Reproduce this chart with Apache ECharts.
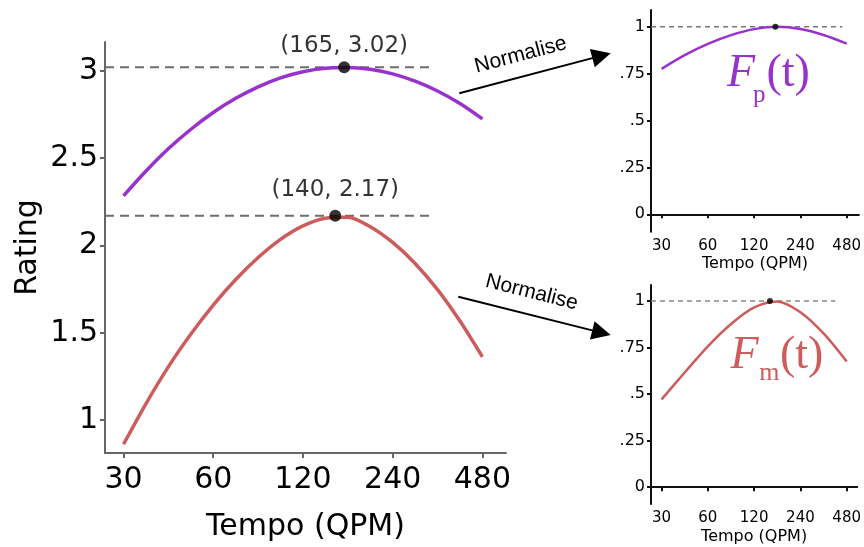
<!DOCTYPE html>
<html><head><meta charset="utf-8">
<script src="https://cdn.jsdelivr.net/npm/echarts@6/dist/echarts.min.js"></script>
<style>html,body{margin:0;padding:0;background:#fff}#c{width:864px;height:547px}</style>
</head><body><div id="c"></div>
<script>
// ---- data ----
const tempo = [30, 35.7, 42.4, 50.5, 60, 71.4, 84.9, 100.9, 120, 142.7, 169.7, 201.8, 240, 285.4, 339.4, 403.6, 480];
const pleasantness = [2.284, 2.426, 2.553, 2.665, 2.761, 2.842, 2.908, 2.959, 2.994, 3.014, 3.018, 3.008, 2.982, 2.940, 2.884, 2.812, 2.724];
const movement = [0.862, 1.095, 1.305, 1.493, 1.659, 1.805, 1.931, 2.035, 2.112, 2.156, 2.162, 2.107, 2.017, 1.897, 1.747, 1.567, 1.362];
const tempoSmall = [30, 42.4, 60, 84.9, 120, 169.7, 240, 339.4, 480];
const pleasantnessNorm = [0.775, 0.848, 0.908, 0.955, 0.987, 1.0, 0.988, 0.956, 0.91];
const movementNorm = [0.472, 0.616, 0.757, 0.877, 0.966, 0.998, 0.94, 0.826, 0.675];
const peakTempo = [165, 154];
const peakValue = [3.02, 2.17];
const peakLabels = ['(165, 3.02)', '(140, 2.17)'];
const peakTempoNorm = [165, 152];
const dashEndMain = 328;
const dashEndNormP = 450;
const dashEndNormM = 404;
const xTicks = [30, 60, 120, 240, 480];
const yTicksMain = [1, 1.5, 2, 2.5, 3];
const yTicksNorm = [0, 0.25, 0.5, 0.75, 1];
const yTickLabelsNorm = ['0', '.25', '.5', '.75', '1'];
const arrowText = 'Normalise';

// ---- build ----
const L = Math.log2;
const PURPLE = '#9932CC', RED = '#CD5C5C';
const FONT = '"DejaVu Sans", sans-serif';
const pts = (xs, ys) => xs.map((t, i) => [L(t), ys[i]]);

function xAxisOf(grid, min, max, fs, margin, nameSize, nameGap, col, lw, tickLen) {
  return {
    type: 'value', gridIndex: grid, min: L(min), max: L(max),
    name: 'Tempo (QPM)', nameLocation: 'middle', nameGap: nameGap,
    nameTextStyle: { fontFamily: FONT, fontSize: nameSize, color: '#000' },
    axisLine: { show: true, lineStyle: { color: col, width: lw } },
    axisTick: { show: true, length: tickLen, lineStyle: { color: col, width: lw }, customValues: xTicks.map(L) },
    axisLabel: { fontFamily: FONT, fontSize: fs, color: '#000', margin: margin,
      customValues: xTicks.map(L), formatter: v => String(Math.round(Math.pow(2, v))) },
    splitLine: { show: false }
  };
}
function yAxisOf(grid, min, max, ticks, labels, fs, margin, col, lw, tickLen, name) {
  const o = {
    type: 'value', gridIndex: grid, min: min, max: max,
    axisLine: { show: true, lineStyle: { color: col, width: lw } },
    axisTick: { show: true, length: tickLen, lineStyle: { color: col, width: lw }, customValues: ticks },
    axisLabel: { fontFamily: FONT, fontSize: fs, color: '#000', margin: margin, customValues: ticks,
      formatter: v => { const i = ticks.findIndex(t => Math.abs(t - v) < 1e-9); return i >= 0 ? labels[i] : ''; } },
    splitLine: { show: false }
  };
  if (name) {
    o.name = name; o.nameLocation = 'middle'; o.nameGap = 62;
    o.nameTextStyle = { fontFamily: FONT, fontSize: 30, color: '#000' };
  }
  return o;
}

function lineSeries(xi, data, color, width) {
  return { type: 'line', xAxisIndex: xi, yAxisIndex: xi, data: data, smooth: 0.3, showSymbol: false,
    symbol: 'none', lineStyle: { color: color, width: width }, z: 3, silent: true };
}
function dashSeries(xi, x0, x1, y, width, dash, color) {
  return { type: 'line', xAxisIndex: xi, yAxisIndex: xi, data: [[x0, y], [x1, y]], showSymbol: false, symbol: 'none',
    lineStyle: { color: color, width: width, type: dash }, z: 2, silent: true };
}

const mainXMin = 26, mainXMax = 576;
const series = [
  dashSeries(0, L(mainXMin), L(dashEndMain), peakValue[0], 2, [9, 6], '#6e6e6e'),
  dashSeries(0, L(mainXMin), L(dashEndMain), peakValue[1], 2, [9, 6], '#6e6e6e'),
  lineSeries(0, pts(tempo, pleasantness), PURPLE, 3.5),
  lineSeries(0, pts(tempo, movement), RED, 3.5),
  { type: 'scatter', xAxisIndex: 0, yAxisIndex: 0, symbol: 'circle', symbolSize: 12, z: 5,
    itemStyle: { color: '#000' },
    data: peakTempo.map((t, i) => ({ value: [L(t), peakValue[i]],
      label: { show: true, position: 'top', distance: i === 0 ? 4 : 8, formatter: peakLabels[i],
        fontFamily: FONT, fontSize: 23, color: '#000' } })) },
  // small top
  dashSeries(1, L(25.6), L(dashEndNormP), 1, 1.5, [5, 4], '#777'),
  lineSeries(1, pts(tempoSmall, pleasantnessNorm), PURPLE, 2.5),
  { type: 'scatter', xAxisIndex: 1, yAxisIndex: 1, symbolSize: 6, itemStyle: { color: '#000' }, z: 5,
    data: [[L(peakTempoNorm[0]), 1]] },
  // small bottom
  dashSeries(2, L(25.6), L(dashEndNormM), 1, 1.5, [5, 4], '#888'),
  lineSeries(2, pts(tempoSmall, movementNorm), RED, 2.5),
  { type: 'scatter', xAxisIndex: 2, yAxisIndex: 2, symbolSize: 6, itemStyle: { color: '#000' }, z: 5,
    data: [[L(peakTempoNorm[1]), 1]] }
];

function arrow(x1, y1, x2, y2) {
  const dx = x2 - x1, dy = y2 - y1, len = Math.hypot(dx, dy), ux = dx / len, uy = dy / len;
  const hl = 19, hw = 9.5;
  const bx = x2 - ux * hl, by = y2 - uy * hl;
  return [
    { type: 'line', shape: { x1: x1, y1: y1, x2: bx + ux * 2, y2: by + uy * 2 }, style: { stroke: '#000', lineWidth: 2 } },
    { type: 'polygon', shape: { points: [[x2, y2], [bx - uy * hw, by + ux * hw], [bx + uy * hw, by - ux * hw]] }, style: { fill: '#000' } }
  ];
}
function ftext(x, y, txt, font, color) {
  return { type: 'text', x: x, y: y, style: { text: txt, font: font, fill: color, align: 'left', verticalAlign: 'middle' } };
}
const SERIF = '"Liberation Serif", "Times New Roman", serif';
const graphic = [
  ...arrow(459.3, 93.3, 610.7, 53.3),
  ...arrow(458.3, 296.7, 610.7, 335),
  { type: 'text', x: 520.7, y: 55, rotation: Math.atan2(40, 151.4),
    style: { text: arrowText, font: '21px "Liberation Sans", Arial, sans-serif', fill: '#000', align: 'center', verticalAlign: 'middle' } },
  { type: 'text', x: 531.7, y: 292.5, rotation: -Math.atan2(38.3, 152.4),
    style: { text: arrowText, font: '21px "Liberation Sans", Arial, sans-serif', fill: '#000', align: 'center', verticalAlign: 'middle' } },
  ftext(727, 73.5, 'F', 'italic 46px ' + SERIF, PURPLE),
  ftext(753, 95, 'p', '25px ' + SERIF, PURPLE),
  ftext(766.5, 73.5, '(t)', '46px ' + SERIF, PURPLE),
  ftext(730.5, 355.8, 'F', 'italic 46px ' + SERIF, RED),
  ftext(759.3, 373.5, 'm', '26px ' + SERIF, RED),
  ftext(780, 355.8, '(t)', '46px ' + SERIF, RED)
];

const option = {
  animation: false,
  backgroundColor: '#fff',
  grid: [
    { left: 105, top: 41.9, width: 401, height: 422.1 },
    { left: 651, top: 10, width: 210.7, height: 221.7 },
    { left: 651, top: 285, width: 208, height: 219 }
  ],
  xAxis: [
    xAxisOf(0, mainXMin, mainXMax, 30, 12, 30, 59, '#666', 2, 5),
    xAxisOf(1, 25.6, 576, 15, 7, 16, 24, '#111', 2, 4),
    xAxisOf(2, 25.6, 562, 15, 7, 16, 25, '#111', 2, 4)
  ],
  yAxis: [
    yAxisOf(0, 0.812, 3.165, yTicksMain, yTicksMain.map(String), 30, 7, '#666', 2, 5, 'Rating'),
    yAxisOf(1, -0.093, 1.089, yTicksNorm, yTickLabelsNorm, 16, 6, '#111', 2, 4),
    yAxisOf(2, -0.09, 1.086, yTicksNorm, yTickLabelsNorm, 16, 6, '#111', 2, 4)
  ],
  series: series,
  graphic: graphic
};
const chart = echarts.init(document.getElementById('c'), null, { renderer: 'canvas' });
chart.setOption(option);
</script></body></html>
